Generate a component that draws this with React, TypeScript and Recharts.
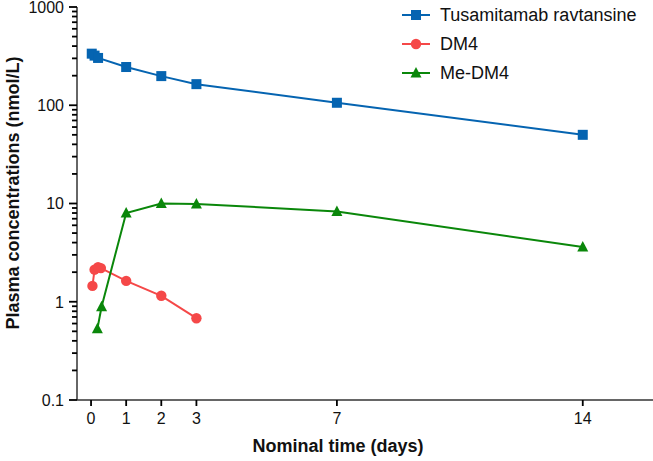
import { LineChart, Line, XAxis, YAxis } from 'recharts';

// time points (days) and concentrations (nmol/L)
const tusTime = [0.02, 0.1, 0.2, 1, 2, 3, 7, 14];
const tusConc = [335, 320, 303, 245, 198, 164, 106, 50];

const dm4Time = [0.04, 0.1, 0.2, 0.28, 1, 2, 3];
const dm4Conc = [1.45, 2.12, 2.25, 2.2, 1.63, 1.15, 0.68];

const meTime = [0.18, 0.3, 1, 2, 3, 7, 14];
const meConc = [0.53, 0.89, 8.0, 10.0, 9.9, 8.3, 3.6];

const xTicks = [0, 1, 2, 3, 7, 14];
const decades = [0.1, 1, 10, 100];
const yTicks = [...decades.flatMap((d) => [1, 2, 3, 4, 5, 6, 7, 8, 9].map((k) => d * k)), 1000];

const BLUE = '#0564b1';
const RED = '#f54848';
const GREEN = '#0a870a';
const AXIS = '#000';
const FONT = '"Liberation Sans", Arial, sans-serif';

const toRows = (t: number[], c: number[]) => t.map((time, i) => ({ time, conc: c[i] }));
const tusData = toRows(tusTime, tusConc);
const dm4Data = toRows(dm4Time, dm4Conc);
const meData = toRows(meTime, meConc);

const isMajor = (v: number) => Math.abs(Math.log10(v) - Math.round(Math.log10(v))) < 1e-6;

const YTick = (props: any) => {
  const { x, y, payload } = props;
  const v = payload.value;
  const major = isMajor(v);
  const len = major ? 8 : 5;
  return (
    <g>
      <rect x={x - len} y={y - 0.9} width={len} height={1.8} fill={AXIS} />
      {major && (
        <text x={x - 13} y={y} dy="0.36em" textAnchor="end" fontSize={16} fill="#111" fontFamily={FONT}>
          {v < 1 ? v.toFixed(1) : String(Math.round(v))}
        </text>
      )}
    </g>
  );
};

const XTick = (props: any) => {
  const { x, y, payload } = props;
  return (
    <g>
      <rect x={x - 0.9} y={y - 13} width={1.8} height={6} fill={AXIS} />
      <text x={x} y={y} dy="0.71em" textAnchor="middle" fontSize={16} fill="#111" fontFamily={FONT}>
        {String(payload.value)}
      </text>
    </g>
  );
};

const Square = (props: any) => {
  const { cx, cy } = props;
  return <rect x={cx - 5} y={cy - 5} width={10} height={10} fill={BLUE} />;
};
const Dot = (props: any) => {
  const { cx, cy } = props;
  return <circle cx={cx} cy={cy} r={5.2} fill={RED} />;
};
const Tri = (props: any) => {
  const { cx, cy } = props;
  return <polygon points={`${cx},${cy - 6} ${cx - 5.5},${cy + 4.5} ${cx + 5.5},${cy + 4.5}`} fill={GREEN} />;
};

const legendItems = [
  { name: 'Tusamitamab ravtansine', color: BLUE, shape: 'square' },
  { name: 'DM4', color: RED, shape: 'circle' },
  { name: 'Me-DM4', color: GREEN, shape: 'triangle' },
];

const LegendBox = () => (
  <svg width={260} height={90} style={{ position: 'absolute', left: 400, top: 0 }}>
    {legendItems.map((it, i) => {
      const cy = 15 + i * 29;
      return (
        <g key={it.name}>
          <line x1={2} x2={30} y1={cy} y2={cy} stroke={it.color} strokeWidth={2} />
          {it.shape === 'square' && <rect x={11} y={cy - 5} width={10} height={10} fill={it.color} />}
          {it.shape === 'circle' && <circle cx={16} cy={cy} r={5.2} fill={it.color} />}
          {it.shape === 'triangle' && (
            <polygon points={`16,${cy - 6} 10.5,${cy + 4.5} 21.5,${cy + 4.5}`} fill={it.color} />
          )}
          <text x={40} y={cy} dy="0.36em" fontSize={18} fill="#111" fontFamily={FONT}>
            {it.name}
          </text>
        </g>
      );
    })}
  </svg>
);

export default function App() {
  return (
    <div style={{ position: 'absolute', left: 0, top: 0, width: 653, height: 461, background: '#fff', fontFamily: FONT }}>
      <LineChart width={653} height={461} margin={{ top: 7, right: 0, bottom: 31, left: 7 }}>
        <XAxis
          dataKey="time"
          type="number"
          domain={[-0.4, 16]}
          ticks={xTicks}
          interval={0}
          height={30}
          tickSize={6}
          tickMargin={7}
          tickLine={false}
          axisLine={{ stroke: '#333', strokeWidth: 1.5 }}
          tick={<XTick />}
        />
        <YAxis
          type="number"
          scale="log"
          domain={[0.1, 1000]}
          ticks={yTicks}
          interval={0}
          width={70}
          tickSize={0}
          tickMargin={0}
          tickLine={false}
          axisLine={{ stroke: '#333', strokeWidth: 1.5 }}
          tick={<YTick />}
        />
        <Line data={tusData} dataKey="conc" name="Tusamitamab ravtansine" stroke={BLUE} strokeWidth={2} dot={<Square />} activeDot={false} isAnimationActive={false} />
        <Line data={dm4Data} dataKey="conc" name="DM4" stroke={RED} strokeWidth={2} dot={<Dot />} activeDot={false} isAnimationActive={false} />
        <Line data={meData} dataKey="conc" name="Me-DM4" stroke={GREEN} strokeWidth={2} dot={<Tri />} activeDot={false} isAnimationActive={false} />
      </LineChart>
      <LegendBox />
      <div style={{ position: 'absolute', left: 252, top: 436, width: 172, textAlign: 'center', fontWeight: 'bold', fontSize: 18, color: '#111', whiteSpace: 'nowrap' }}>
        Nominal time (days)
      </div>
      <div
        style={{
          position: 'absolute',
          left: 13,
          top: 193,
          transform: 'translate(-50%, -50%) rotate(-90deg)',
          fontWeight: 'bold',
          fontSize: 18,
          color: '#111',
          whiteSpace: 'nowrap',
        }}
      >
        Plasma concentrations (nmol/L)
      </div>
    </div>
  );
}
